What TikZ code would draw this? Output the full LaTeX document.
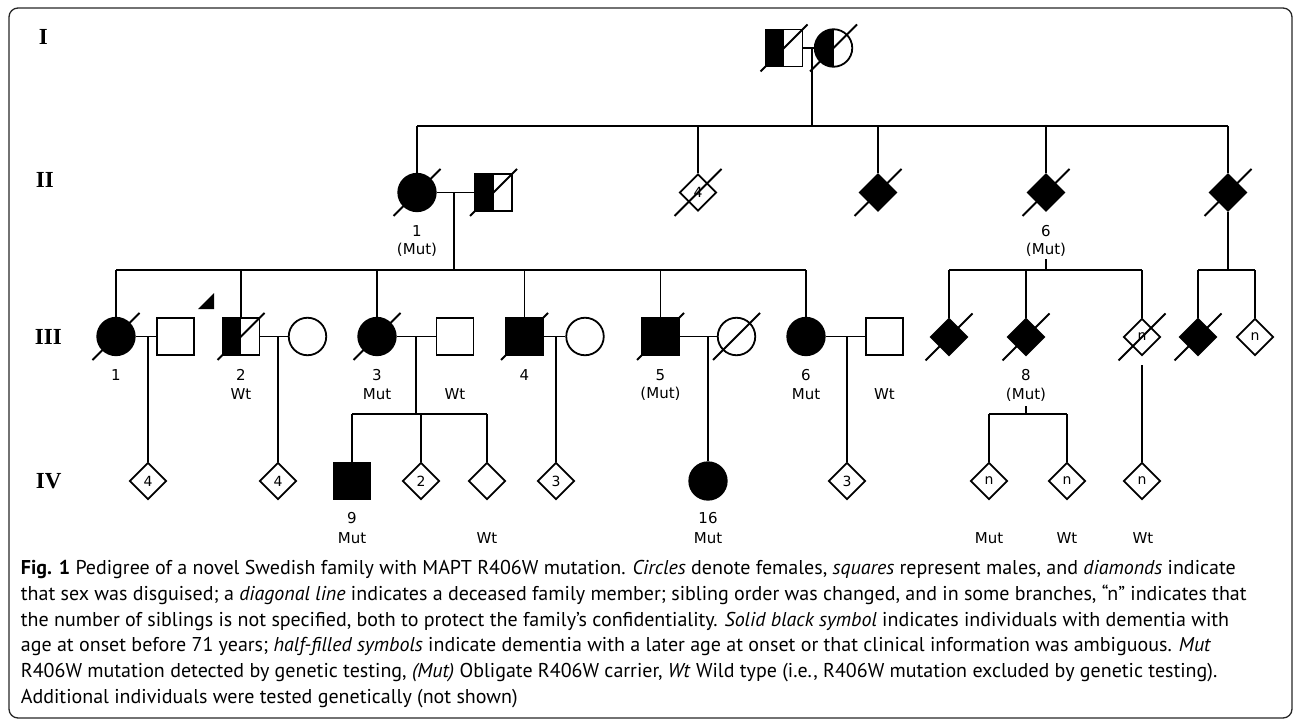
\documentclass[tikz,border=0pt]{standalone}
\usepackage{fontspec}
\setmainfont{PT Sans}
\newfontfamily\pedfont{DejaVu Sans}
\newfontfamily\genfont{Liberation Serif}
\usetikzlibrary{shapes.geometric}
\newcommand\dead[1]{\draw (#1.center) ++(-23.5,23.5) -- ++(47,-47);}
\begin{document}
\begin{tikzpicture}[x=1bp,y=-1bp, line width=1.8bp,
 sq/.style={draw, rectangle, minimum size=37bp, inner sep=0pt},
 ci/.style={draw, circle, minimum size=37.5bp, inner sep=0pt},
 di/.style={draw, diamond, minimum width=37bp, minimum height=37bp, inner sep=0pt, font=\pedfont\fontsize{14bp}{14bp}\selectfont},
 aff/.style={fill=black},
 half/.style={path picture={\fill[black] (path picture bounding box.south west) rectangle (path picture bounding box.north);}},
 lbl/.style={font=\pedfont\fontsize{15bp}{18bp}\selectfont, inner sep=0pt},
 gen/.style={font=\genfont\bfseries\fontsize{23bp}{23bp}\selectfont, inner sep=0pt, anchor=west},
 captxt/.style={font=\fontsize{20bp}{24bp}\selectfont, inner sep=0pt, anchor=base west},
]
\useasboundingbox (0,0) rectangle (1295,724);
\draw[line width=1.3bp, rounded corners=9bp, black!85] (9,8) rectangle (1292,718);

% generation labels
\node[gen] (gI) at (38,37) {I};
\node[gen] (gII) at (35,180) {II};
\node[gen] (gIII) at (34,336.5) {III};
\node[gen] (gIV) at (35,481) {IV};

% Generation I
\node[sq,half] (I1) at (784,48) {};
\node[ci,half] (I2) at (833.5,48) {};
\dead{I1} \dead{I2}
\draw (I1.east) -- (I2.west);
\coordinate (mI) at (812,48);
\coordinate (sII) at (812,126);
\draw (mI) -- (sII);

% Generation II
\node[ci,aff] (II1) at (417,192.5) {};
\node[sq,half] (II2) at (493.5,192.5) {};
\node[di] (II3) at (698,192.5) {4};
\node[di,aff] (II4) at (878,192.5) {};
\node[di,aff] (II5) at (1046,192.5) {};
\node[di,aff] (II6) at (1228,192.5) {};
\foreach \n in {II1,II2,II3,II4,II5,II6} {\dead{\n}}
\coordinate (sIIa) at (417,126);
\coordinate (sIIb) at (1228,126);
\draw (sIIa) -- (sIIb);
\foreach \n in {II1,II3,II4,II5,II6} {\draw (\n.north |- sII) -- (\n.north);}
\draw (II1.east) -- (II2.west);
\node[lbl] (lII1a) at (417,231) {1};
\node[lbl] (lII1b) at (417,249.5) {(Mut)};
\node[lbl] (lII5a) at (1046,231) {6};
\node[lbl] (lII5b) at (1046,249.5) {(Mut)};

% Generation III, left family
\coordinate (mII) at (454,192.5);
\coordinate (sIII) at (454,270);
\draw (mII) -- (sIII);
\node[ci,aff] (III1) at (116,336.5) {};
\node[sq] (III1s) at (175.5,336.5) {};
\node[sq,half] (III2) at (241,336.5) {};
\node[ci] (III2s) at (307.5,336.5) {};
\node[ci,aff] (III3) at (377,336.5) {};
\node[sq] (III3s) at (455,336.5) {};
\node[sq,aff] (III4) at (524.5,336.5) {};
\node[ci] (III4s) at (585,336.5) {};
\node[sq,aff] (III5) at (660.5,336.5) {};
\node[ci] (III5s) at (736.5,336.5) {};
\node[ci,aff] (III6) at (806,336.5) {};
\node[sq] (III6s) at (884.5,336.5) {};
\foreach \n in {III1,III2,III3,III4,III5,III5s} {\dead{\n}}
\coordinate (sIIIa) at (116,270);
\coordinate (sIIIb) at (806,270);
\draw (sIIIa) -- (sIIIb);
\foreach \n in {III1,III2,III3,III4,III5,III6} {\draw (\n.north |- sIII) -- (\n.north);}
\draw (III1.east) -- (III1s.west);
\draw (III2.east) -- (III2s.west);
\draw (III3.east) -- (III3s.west);
\draw (III4.east) -- (III4s.west);
\draw (III5.east) -- (III5s.west);
\draw (III6.east) -- (III6s.west);
\fill (198,309) -- (214,309) -- (214,293) -- cycle;

% Generation III, right families
\node[di,aff] (III7) at (949,337) {};
\node[di,aff] (III8) at (1026,337) {};
\node[di] (III9) at (1142,337) {n};
\node[di,aff] (III10) at (1198,337) {};
\node[di] (III11) at (1255,337) {n};
\foreach \n in {III7,III8,III9,III10} {\dead{\n}}
\coordinate (d6a) at (1046,259);
\coordinate (d6b) at (1046,270);
\draw (d6a) -- (d6b);
\coordinate (sIIIc) at (949,270);
\coordinate (sIIId) at (1142,270);
\draw (sIIIc) -- (sIIId);
\foreach \n in {III7,III8,III9} {\draw (\n.north |- d6b) -- (\n.north);}
\coordinate (sIIIe) at (1198,270);
\coordinate (sIIIf) at (1255,270);
\draw (II6.south) -- (II6.south |- sIIIe);
\draw (sIIIe) -- (sIIIf);
\foreach \n in {III10,III11} {\draw (\n.north |- sIIIe) -- (\n.north);}

% labels gen III
\node[lbl] at (116,375) {1};
\node[lbl] at (241,375) {2};
\node[lbl] at (241,394) {Wt};
\node[lbl] at (377,375) {3};
\node[lbl] at (377,394) {Mut};
\node[lbl] at (455,394) {Wt};
\node[lbl] at (524.5,375) {4};
\node[lbl] at (660.5,375) {5};
\node[lbl] at (660.5,394) {(Mut)};
\node[lbl] at (806,375) {6};
\node[lbl] at (806,394) {Mut};
\node[lbl] at (884.5,394) {Wt};
\node[lbl] at (1026,375) {8};
\node[lbl] at (1026,395) {(Mut)};

% Generation IV
\node[di] (IV1) at (148,481) {4};
\node[di] (IV2) at (278,481) {4};
\node[sq,aff] (IV3) at (352,481) {};
\node[di] (IV4) at (421,481) {2};
\node[di] (IV5) at (487,481) {};
\node[di] (IV6) at (556,481) {3};
\node[ci,aff] (IV7) at (708,481) {};
\node[di] (IV8) at (847,481) {3};
\node[di] (IV9) at (989,481) {n};
\node[di] (IV10) at (1067,481) {n};
\node[di] (IV11) at (1142,481) {n};
\coordinate (m1) at (148,336.5);
\coordinate (m2) at (278,336.5);
\coordinate (m3) at (416,336.5);
\coordinate (s3) at (416,414);
\coordinate (m4) at (556,336.5);
\coordinate (m5) at (708,336.5);
\coordinate (m6) at (847,336.5);
\draw (m1) -- (IV1.north);
\draw (m2) -- (IV2.north);
\draw (m3) -- (s3);
\draw (IV3.north |- s3) -- (IV5.north |- s3);
\foreach \n in {IV3,IV4,IV5} {\draw (\n.north |- s3) -- (\n.north);}
\draw (m4) -- (IV6.north);
\draw (m5) -- (IV7.north);
\draw (m6) -- (IV8.north);
\coordinate (d8a) at (1026,406);
\coordinate (d8b) at (1026,414);
\draw (d8a) -- (d8b);
\draw (IV9.north |- d8b) -- (IV10.north |- d8b);
\foreach \n in {IV9,IV10} {\draw (\n.north |- d8b) -- (\n.north);}
\coordinate (d9) at (1142,365);
\draw (d9) -- (IV11.north);

% labels gen IV
\node[lbl] at (352,518) {9};
\node[lbl] at (352,538) {Mut};
\node[lbl] at (487,538) {Wt};
\node[lbl] at (708,518) {16};
\node[lbl] at (708,538) {Mut};
\node[lbl] at (989,538) {Mut};
\node[lbl] at (1067,538) {Wt};
\node[lbl] at (1143,538) {Wt};

% caption
\node[captxt] (c1) at (20,574) {\textbf{Fig. 1} Pedigree of a novel Swedish family with MAPT R406W mutation. \textit{Circles} denote females, \textit{squares} represent males, and \textit{diamonds} indicate};
\node[captxt] (c2) at (20,600) {that sex was disguised; a \textit{diagonal line} indicates a deceased family member; sibling order was changed, and in some branches, “n” indicates that};
\node[captxt] (c3) at (20,626) {the number of siblings is not specified, both to protect the family’s confidentiality. \textit{Solid black symbol} indicates individuals with dementia with};
\node[captxt] (c4) at (20,651.5) {age at onset before 71 years; \textit{half-filled symbols} indicate dementia with a later age at onset or that clinical information was ambiguous. \textit{Mut}};
\node[captxt] (c5) at (20,677.5) {R406W mutation detected by genetic testing, \textit{(Mut)} Obligate R406W carrier, \textit{Wt} Wild type (i.e., R406W mutation excluded by genetic testing).};
\node[captxt] (c6) at (20,703) {Additional individuals were tested genetically (not shown)};
\end{tikzpicture}
\end{document}
